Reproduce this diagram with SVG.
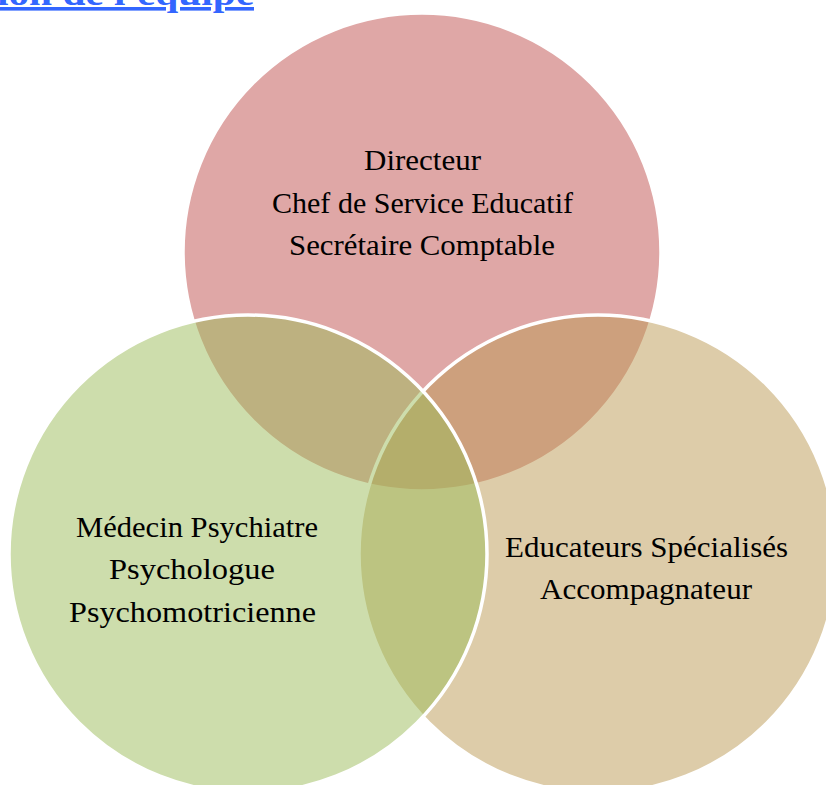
<svg xmlns="http://www.w3.org/2000/svg" width="826" height="785" viewBox="0 0 826 785">
  <style>
    .circle { stroke: #ffffff; stroke-width: 3.5; fill-opacity: 0.5; }
    .label { font-family: "Liberation Serif", "Times New Roman", serif; font-size: 29px; fill: #000000; }
    .title { font-family: "Liberation Serif", "Times New Roman", serif; font-size: 36px; font-weight: bold; fill: #3366FF; text-decoration: underline; }
  </style>
  <rect x="0" y="0" width="826" height="785" fill="#ffffff"/>
  <text class="title" x="-3" y="5" textLength="257" lengthAdjust="spacingAndGlyphs">ion de l'équipe</text>
  <g id="direction">
    <circle class="circle" cx="422" cy="252" r="239" fill="#C0504D"/>
    <text class="label" x="364" y="169.5" textLength="117" lengthAdjust="spacingAndGlyphs">Directeur</text>
    <text class="label" x="272" y="212.5" textLength="301" lengthAdjust="spacingAndGlyphs">Chef de Service Educatif</text>
    <text class="label" x="289" y="255" textLength="266" lengthAdjust="spacingAndGlyphs">Secrétaire Comptable</text>
  </g>
  <g id="educatif">
    <circle class="circle" cx="598" cy="554" r="239" fill="#BB9953"/>
    <text class="label" x="505" y="556.5" textLength="283" lengthAdjust="spacingAndGlyphs">Educateurs Spécialisés</text>
    <text class="label" x="540" y="599" textLength="212" lengthAdjust="spacingAndGlyphs">Accompagnateur</text>
  </g>
  <g id="medical">
    <circle class="circle" cx="248" cy="554" r="239" fill="#9BBB59"/>
    <text class="label" x="76" y="536.5" textLength="242" lengthAdjust="spacingAndGlyphs">Médecin Psychiatre</text>
    <text class="label" x="109" y="579" textLength="166" lengthAdjust="spacingAndGlyphs">Psychologue</text>
    <text class="label" x="69" y="621.5" textLength="247" lengthAdjust="spacingAndGlyphs">Psychomotricienne</text>
  </g>
  <g id="connectors"/>
</svg>
